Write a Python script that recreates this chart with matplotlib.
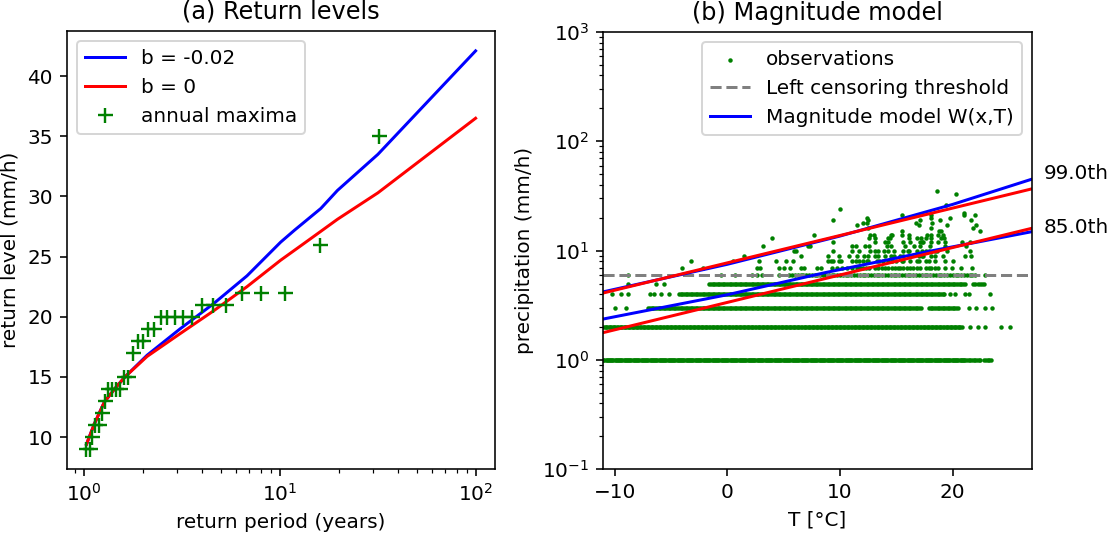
import numpy as np
import matplotlib
matplotlib.use("Agg")
import matplotlib.pyplot as plt

# ---------------- (a) return levels ----------------
T_blue = [1.03, 1.13, 1.27, 1.45, 1.62, 2.1, 3.1, 4.6, 6.8, 10.1, 11.9, 16.2, 19.7, 31.7, 100]
rl_blue = [9.4, 11.1, 12.9, 14.1, 15.0, 16.8, 19.0, 21.1, 23.4, 26.2, 27.2, 29.0, 30.5, 33.5, 42.1]
T_red = [1.03, 1.13, 1.27, 1.45, 1.62, 2.1, 3.1, 4.6, 6.8, 10.1, 12.8, 16.2, 19.7, 31.7, 100]
rl_red = [9.4, 11.1, 12.9, 14.1, 15.0, 16.7, 18.6, 20.5, 22.5, 24.7, 25.9, 27.1, 28.1, 30.3, 36.5]

# annual maxima (sorted) and their empirical return periods
amax = [35, 26, 22, 22, 22, 21, 21, 21, 20, 20, 20, 20, 20, 19, 19, 18,
        18, 17, 15, 15, 14, 14, 14, 14, 13, 12, 11, 11, 10, 9, 9]
amax_T = [32.0, 16.0, 10.67, 8.0, 6.4, 5.33, 4.57, 4.0, 3.56, 3.2, 2.91,
          2.67, 2.46, 2.29, 2.13, 2.0, 1.88, 1.78, 1.68, 1.6, 1.52, 1.45,
          1.39, 1.33, 1.28, 1.23, 1.19, 1.14, 1.10, 1.07, 1.03]

# ---------------- (b) magnitude model ----------------
threshold = 6.0
T_line = [-11, 27]
q99_red = [4.1, 36.7]
q85_red = [1.78, 16.0]
T_blue99 = [-11, 0, 10, 20, 27]
q99_blue = [4.2, 7.5, 13.6, 26.5, 45.0]
T_blue85 = [-11, 0, 8.7, 18, 27]
q85_blue = [2.37, 3.95, 6.3, 9.9, 14.9]

# observations: dense runs (start, end, spacing) and single points per level
dense_runs = {
    1: [(-11.0, 21.0, 0.1), (21.1, 22.5, 0.15), (22.8, 23.4, 0.15)],
    2: [(-11.0, 20.8, 0.12)],
    3: [(-7.0, 17.1, 0.15), (17.9, 20.5, 0.15)],
    4: [(-4.3, 19.3, 0.15)],
    5: [(-1.6, 21.1, 0.15), (21.8, 22.9, 0.2)],
    6: [(5.5, 22.0, 0.25)],
}
single_pts = {
    2: [21.5, 22.2, 22.9, 24.3, 25.1],
    3: [-10.0, -9.0, 21.4, 22.1, 22.9, 23.5],
    4: [-10.2, -9.4, -8.8, -6.9, -6.5, -5.9, -5.2, 19.8, 20.2, 21.1, 21.4, 23.3],
    5: [-8.8, -6.3, -5.6],
    6: [-8.8, -0.6, 0.7, 2.2, 2.6, 3.1, 4.6, 22.9],
    7: [-4.0, -2.2, 2.6, 2.9, 4.6, 5.0, 5.6, 6.5, 6.8, 8.0, 8.3, 9.3, 9.7, 10.2,
        10.6, 11.1, 11.5, 11.8, 12.0, 12.3, 12.6, 13.1, 13.4, 13.7, 14.0, 14.3,
        14.6, 14.9, 15.1, 15.3, 15.6, 15.9, 16.2, 16.5, 16.8, 17.1, 17.6, 17.9,
        18.1, 18.4, 18.7, 19.3, 19.9, 20.7, 21.7],
    8: [-3.2, 0.5, 2.8, 4.3, 5.2, 5.8, 8.9, 9.2, 9.4, 9.9, 10.1, 11.1, 11.4, 11.7,
        12.0, 12.4, 12.5, 13.3, 13.5, 13.8, 14.3, 14.6, 15.0, 15.5, 15.6, 16.2,
        16.8, 17.0, 17.6, 17.9, 18.4, 19.3, 20.0],
    9: [1.5, 6.5, 8.9, 9.9, 10.8, 11.5, 12.1, 12.5, 13.1, 13.4, 14.0, 14.5, 14.8,
        15.3, 15.6, 16.2, 17.0, 17.3, 17.4, 18.1, 18.4, 19.1, 21.1, 21.6],
    10: [5.9, 6.1, 9.4, 11.1, 11.7, 12.7, 13.1, 13.4, 13.9, 14.3, 14.8, 15.6,
         16.0, 16.1, 16.8, 17.3, 17.6, 17.9, 18.4, 18.6, 19.5, 21.5],
    11: [3.2, 7.2, 7.3, 11.1, 11.4, 12.2, 12.6, 14.2, 14.5, 15.8, 16.6, 17.1,
         18.0, 19.3, 21.2],
    12: [9.4, 13.1, 14.0, 14.3, 15.6, 16.2, 17.1, 17.3, 17.4, 18.1, 18.7, 19.3,
         20.8, 21.5],
    13: [4.0, 12.6, 13.1, 14.3, 14.4, 16.1, 16.8, 17.2, 17.6, 18.1, 19.0, 19.2],
    14: [7.7, 12.7, 13.0, 14.5, 14.6, 15.5, 16.1, 17.7, 18.1, 18.7, 19.1],
    15: [15.5, 18.8, 19.0, 22.4],
    16: [12.5, 18.1, 21.8],
    17: [11.5, 17.0, 19.5, 22.1],
    18: [12.0, 12.4, 16.7, 18.2],
    19: [9.4, 12.5, 17.1, 18.9, 21.6],
    20: [12.4, 18.1, 19.8],
    21: [15.5, 18.1, 21.0, 22.0],
    22: [21.0],
    24: [10.0],
    26: [19.4],
    33: [20.3],
    35: [18.6],
}

obs_T, obs_P = [], []
for lev, runs in dense_runs.items():
    for a, b, step in runs:
        t = np.arange(a, b + step / 2, step)
        obs_T.extend(t)
        obs_P.extend([lev] * len(t))
for lev, ts in single_pts.items():
    obs_T.extend(ts)
    obs_P.extend([lev] * len(ts))

fig = plt.figure(figsize=(1108 / 144, 533 / 144), dpi=144)
ax1 = fig.add_axes([0.0605, 0.1201, 0.3863, 0.8218])
ax2 = fig.add_axes([0.5445, 0.1195, 0.3866, 0.8205])

ax1.plot(T_blue, rl_blue, color='blue', label='b = -0.02')
ax1.plot(T_red, rl_red, color='red', label='b = 0')
ax1.plot(amax_T, amax, '+', color='green', ms=7.5, mew=1.2, label='annual maxima')
ax1.set_xscale('log')
ax1.set_xlabel('return period (years)')
ax1.set_ylabel('return level (mm/h)')
ax1.set_title('(a) Return levels')
ax1.legend(loc='upper left')

ax2.scatter(obs_T, obs_P, s=5, color='green', linewidths=0, label='observations')
ax2.axhline(threshold, color='gray', ls='--', label='Left censoring threshold')
ax2.plot(T_blue99, q99_blue, color='blue', label='Magnitude model W(x,T)')
ax2.plot(T_blue85, q85_blue, color='blue')
ax2.plot(T_line, q99_red, color='red')
ax2.plot(T_line, q85_red, color='red')
ax2.set_yscale('log')
ax2.set_xlim(-11, 27)
ax2.set_ylim(0.1, 1000)
ax2.set_xlabel('T [°C]')
ax2.set_ylabel('precipitation (mm/h)')
ax2.set_title('(b) Magnitude model')
ax2.text(28.1, 51, '99.0th', ha='left', va='center', clip_on=False)
ax2.text(28.1, 16.4, '85.0th', ha='left', va='center', clip_on=False)
ax2.legend(loc='upper right')

fig.savefig('out.png', dpi=144)
